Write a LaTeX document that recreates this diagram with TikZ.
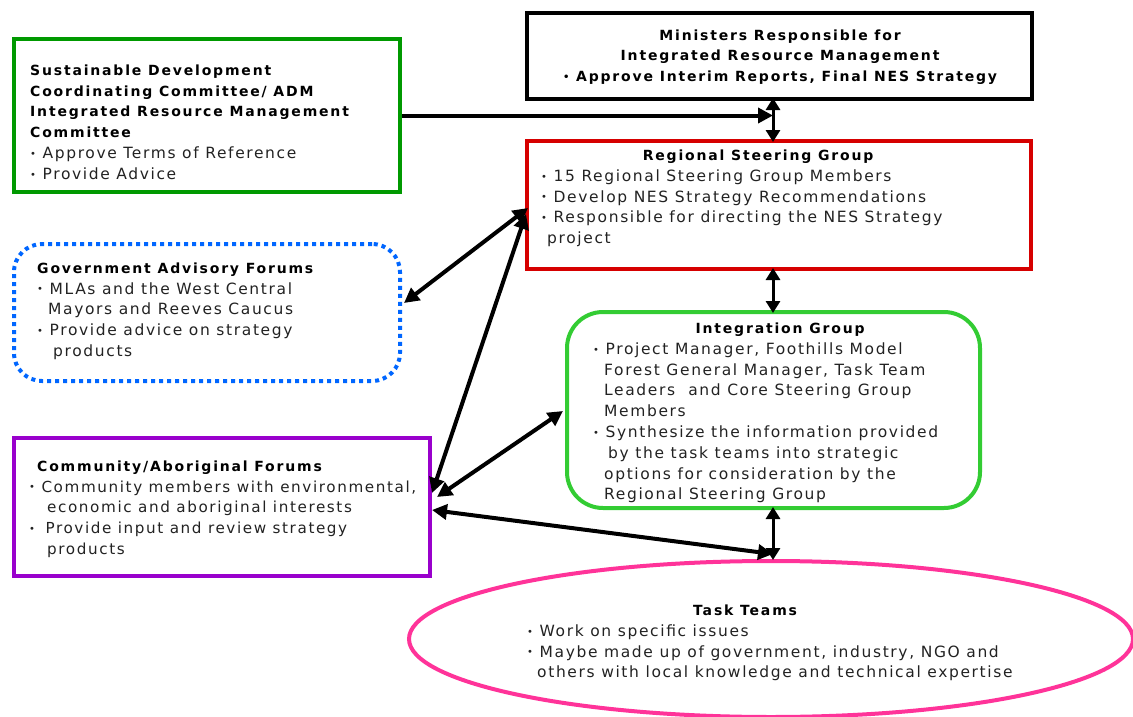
\documentclass[tikz,border=0pt]{standalone}
\usepackage{fontspec}
\setmainfont{DejaVu Sans}[LetterSpace=10.5, BoldFeatures={LetterSpace=13}]
\usetikzlibrary{arrows.meta,shapes.geometric}
\definecolor{sdgreen}{RGB}{0,153,0}
\definecolor{rsred}{RGB}{214,0,0}
\definecolor{gablue}{RGB}{0,102,255}
\definecolor{iggreen}{RGB}{51,204,51}
\definecolor{capurple}{RGB}{153,0,204}
\definecolor{ttpink}{RGB}{255,51,153}
\definecolor{txt}{RGB}{34,34,34}
\newcommand\bul{\raisebox{1.2pt}{\fontsize{10}{10}\selectfont•}\ }
\newcommand\hd[1]{{\fontsize{14}{20.8}\selectfont\bfseries\color{black}#1}}
\newcommand\fst{\rule{0pt}{15pt}}
\tikzset{
  box/.style={draw, line width=4pt, minimum width=#1, inner sep=0pt},
  txtblock/.style={anchor=north west, align=left, inner sep=0pt, text=txt,
     font=\fontsize{15.5}{20.8}\selectfont},
  ctrblock/.style={anchor=north, align=center, inner sep=0pt, text=black,
     font=\fontsize{14}{20.8}\selectfont},
  arr/.style={line width=4pt, -{Triangle[length=15pt,width=15pt]}},
  darr/.style={line width=4pt, {Triangle[length=15pt,width=15pt]}-{Triangle[length=15pt,width=15pt]}},
  varr/.style={line width=3pt, {Triangle[length=12pt,width=14pt]}-{Triangle[length=12pt,width=14pt]}},
}
\begin{document}
\begin{tikzpicture}[x=1pt,y=-1pt]
\useasboundingbox (0,0) rectangle (1133,717);
% boxes
\node[box=386pt, minimum height=153pt, draw=sdgreen] (sdcc) at (207,115.5) {};
\node[box=505pt, minimum height=86pt, draw=black] (min) at (779.5,56) {};
\node[box=504pt, minimum height=128pt, draw=rsred] (rsg) at (779,205) {};
\node[draw=gablue, line width=4pt, dash pattern=on 4pt off 4pt, rounded corners=28pt,
      minimum width=386pt, minimum height=137pt, inner sep=0pt] (gaf) at (207,312.5) {};
\node[draw=iggreen, line width=4pt, rounded corners=36pt,
      minimum width=413pt, minimum height=196pt, inner sep=0pt] (ig) at (773.5,410) {};
\node[box=416pt, minimum height=138pt, draw=capurple] (caf) at (222,507) {};
\node[draw=ttpink, line width=4pt, ellipse, minimum width=724pt, minimum height=156pt, inner sep=0pt] (tt) at (771,639) {};
% texts (north = first baseline - 15)
\node[txtblock] (sdccT) at (30,60) {\fst\hd{Sustainable Development}\\
\hd{Coordinating Committee/ ADM}\\
\hd{Integrated Resource Management}\\
\hd{Committee}\\
\bul Approve Terms of Reference\\
\bul Provide Advice};
\node[ctrblock] (minT) at (781,25) {\fst\textbf{Ministers Responsible for}\\
\textbf{Integrated Resource Management}\\
\textbf{\bul Approve Interim Reports, Final NES Strategy}};
\node[ctrblock] (rsgT) at (759,145) {\fst\textbf{Regional Steering Group}};
\node[txtblock] (rsgB) at (541,166) {\fst\bul 15 Regional Steering Group Members\\
\bul Develop NES Strategy Recommendations\\
\bul Responsible for directing the NES Strategy\\
\hspace*{6pt}project};
\node[txtblock] (gafT) at (37,258) {\fst\hd{Government Advisory Forums}\\
\bul MLAs and the West Central\\
\hspace*{11pt}Mayors and Reeves Caucus\\
\bul Provide advice on strategy\\
\hspace*{16pt}products};
\node[ctrblock] (igT) at (781,318) {\fst\textbf{Integration Group}};
\node[txtblock] (igB) at (593,339) {\fst\bul Project Manager, Foothills Model\\
\hspace*{11pt}Forest General Manager, Task Team\\
\hspace*{11pt}Leaders\ \ and Core Steering Group\\
\hspace*{11pt}Members\\
\bul Synthesize the information provided\\
\hspace*{15pt}by the task teams into strategic\\
\hspace*{11pt}options for consideration by the\\
\hspace*{11pt}Regional Steering Group};
\node[txtblock, font=\fontsize{15.2}{20.8}\selectfont] (cafT) at (37,456) {\fst\hd{Community/Aboriginal Forums}\\
\hspace*{-8pt}\bul Community members with environmental,\\
\hspace*{10pt}economic and aboriginal interests\\
\hspace*{-8pt}\bul\hspace*{4pt}Provide input and review strategy\\
\hspace*{10pt}products};
\node[ctrblock] (ttT) at (746,600) {\fst\textbf{Task Teams}};
\node[txtblock] (ttB) at (527,621) {\fst\bul Work on specific issues\\
\bul Maybe made up of government, industry, NGO and\\
\hspace*{10pt}others with local knowledge and technical expertise};
% connector coordinates
\coordinate (vx1) at (773,115.5);
\coordinate (m1) at (773,98);
\coordinate (r1) at (773,142);
\coordinate (r2) at (773,268);
\coordinate (i1) at (773,313);
\coordinate (i2) at (773,507);
\coordinate (t1) at (773,560);
\coordinate (gafE) at (404,303);
\coordinate (rsgL1) at (528,208);
\coordinate (rsgL2) at (526,214);
\coordinate (cafE1) at (432,493);
\coordinate (cafE2) at (437,497);
\coordinate (cafE3) at (432,510);
\coordinate (igL) at (563,411);
\coordinate (ttTop) at (773,554);
% connectors
\draw[arr] (sdcc.east |- vx1) -- (vx1);
\draw[varr] (m1) -- (r1);
\draw[varr] (r2) -- (i1);
\draw[varr] (i2) -- (t1);
\draw[darr] (gafE) -- (rsgL1);
\draw[darr] (cafE1) -- (rsgL2);
\draw[darr] (cafE2) -- (igL);
\draw[darr] (cafE3) -- (ttTop);
\end{tikzpicture}
\end{document}
